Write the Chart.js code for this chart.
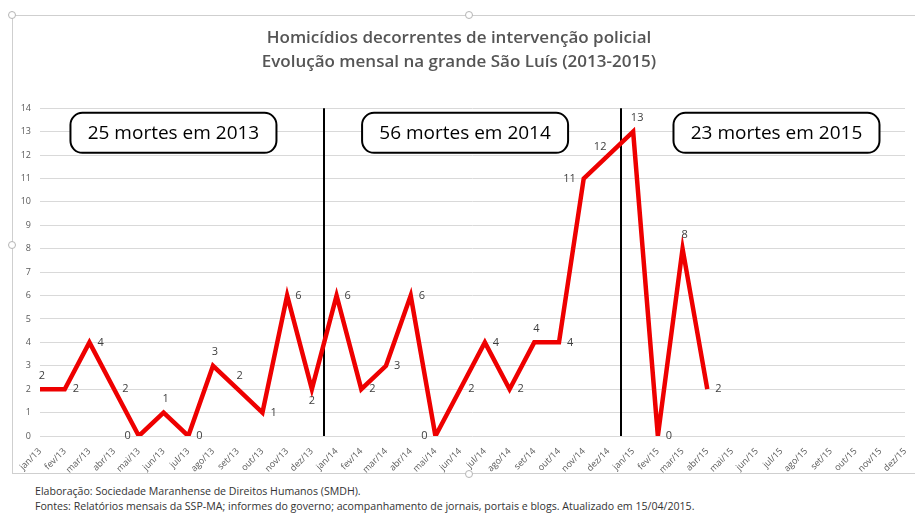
<!DOCTYPE html>
<html>
<head>
<meta charset="utf-8">
<title>Homicídios decorrentes de intervenção policial</title>
<script src="https://cdn.jsdelivr.net/npm/chart.js@4.4.1/dist/chart.umd.min.js"></script>
<style>
    body { margin: 0; background: #fff; width: 915px; height: 515px; overflow: hidden; position: relative; font-family: 'Open Sans', sans-serif; }
    #frame { position: absolute; left: 12px; top: 15px; width: 930px; height: 459px; border: 1px solid #cfcfcf; border-right: none; box-sizing: border-box; }
    .handle { position: absolute; width: 6px; height: 6px; border: 1px solid #b5b5b5; border-radius: 50%; background: #fff; }
    #wrap { position: absolute; left: 13px; top: 16px; width: 902px; height: 457px; }
    .note { position: absolute; left: 35px; font-size: 10.6px; color: #333; white-space: nowrap; }
</style>
</head>
<body>
<div id="frame"></div>
<div class="handle" style="left:8px; top:11px;"></div>
<div class="handle" style="left:465px; top:11px;"></div>
<div class="handle" style="left:8px; top:241px;"></div>
<div class="handle" style="left:465px; top:470px;"></div>
<div id="wrap"><canvas id="chart"></canvas></div>
<div class="note" style="top:484px;">Elaboração: Sociedade Maranhense de Direitos Humanos (SMDH).</div>
<div class="note" style="top:499px;">Fontes: Relatórios mensais da SSP-MA; informes do governo; acompanhamento de jornais, portais e blogs. Atualizado em 15/04/2015.</div>

<script>
// monthly deaths per year
const deaths2013 = [2, 2, 4, 2, 0, 1, 0, 3, 2, 1, 6, 2];
const deaths2014 = [6, 2, 3, 6, 0, 2, 4, 2, 4, 4, 11, 12];
const deaths2015 = [13, 0, 8, 2];

const monthLabels = [
    'jan/13', 'fev/13', 'mar/13', 'abr/13', 'mai/13', 'jun/13', 'jul/13', 'ago/13', 'set/13', 'out/13', 'nov/13', 'dez/13',
    'jan/14', 'fev/14', 'mar/14', 'abr/14', 'mai/14', 'jun/14', 'jul/14', 'ago/14', 'set/14', 'out/14', 'nov/14', 'dez/14',
    'jan/15', 'fev/15', 'mar/15', 'abr/15', 'mai/15', 'jun/15', 'jul/15', 'ago/15', 'set/15', 'out/15', 'nov/15', 'dez/15'
];
const yearNames = ['2013', '2014', '2015'];

// where each value label sits around its point: r = right, l = left, a = above, b = below, al = above-left
const labelPos = ['a', 'r', 'r', 'r', 'l', 'a', 'r', 'a', 'a', 'r', 'r', 'b',
                  'r', 'r', 'r', 'r', 'l', 'r', 'r', 'r', 'a', 'r', 'l', 'al',
                  'a', 'r', 'a', 'r'];

const yearSeries = [deaths2013, deaths2014, deaths2015];
const series = [].concat(deaths2013, deaths2014, deaths2015);
while (series.length < monthLabels.length) series.push(null);

const yearTotals = yearSeries.map(arr => arr.reduce((a, b) => a + b, 0));

const annotations = {
    id: 'annotations',
    beforeDatasetsDraw(chart) {
        const { ctx, chartArea, scales: { x } } = chart;
        ctx.save();
        ctx.strokeStyle = '#000';
        ctx.lineWidth = 2;
        // year separators between dez and jan
        [11.5, 23.5].forEach(v => {
            const px = Math.round(x.getPixelForValue(v));
            ctx.beginPath();
            ctx.moveTo(px, chartArea.top);
            ctx.lineTo(px, chartArea.bottom);
            ctx.stroke();
        });
        ctx.restore();
    },
    afterDatasetsDraw(chart) {
        const { ctx, scales: { x, y } } = chart;
        const meta = chart.getDatasetMeta(0);
        ctx.save();

        // value labels
        ctx.font = '11px "Open Sans"';
        ctx.fillStyle = '#404040';
        meta.data.forEach((pt, i) => {
            const v = series[i];
            if (v === null) return;
            const pos = labelPos[i];
            let tx = pt.x, ty = pt.y;
            if (pos === 'r') { ctx.textAlign = 'left'; ctx.textBaseline = 'middle'; tx += 8; }
            else if (pos === 'l') { ctx.textAlign = 'right'; ctx.textBaseline = 'middle'; tx -= 8; }
            else if (pos === 'a') { ctx.textAlign = 'center'; ctx.textBaseline = 'bottom'; ty -= 8; tx += (i === 24 ? 4 : 2); }
            else if (pos === 'al') { ctx.textAlign = 'right'; ctx.textBaseline = 'bottom'; tx -= 2; ty -= 3; }
            else { ctx.textAlign = 'center'; ctx.textBaseline = 'top'; ty += 6; }
            ctx.fillText(String(v), tx, ty);
        });

        // yearly totals in rounded boxes
        const centers = [5.4, 17.2, 29.8];
        ctx.font = '19px "Open Sans"';
        ctx.textAlign = 'center';
        ctx.textBaseline = 'middle';
        centers.forEach((c, i) => {
            const cx = x.getPixelForValue(c);
            const cy = y.getPixelForValue(12.95);
            const w = 206, h = 40, r = 12;
            ctx.beginPath();
            ctx.roundRect(cx - w / 2, cy - h / 2, w, h, r);
            ctx.fillStyle = '#fff';
            ctx.fill();
            ctx.lineWidth = 2;
            ctx.strokeStyle = '#000';
            ctx.stroke();
            ctx.fillStyle = '#000';
            ctx.fillText(yearTotals[i] + ' mortes em ' + yearNames[i], cx, cy + 1);
        });
        ctx.restore();
    }
};

new Chart(document.getElementById('chart'), {
    type: 'line',
    data: {
        labels: monthLabels,
        datasets: [{
            data: series,
            borderColor: '#ee0000',
            borderWidth: 4.5,
            borderJoinStyle: 'miter',
            pointRadius: 0,
            tension: 0,
            fill: false
        }]
    },
    options: {
        responsive: true,
        maintainAspectRatio: false,
        animation: false,
        layout: { padding: { left: 0, right: 10, top: 0, bottom: 0 } },
        plugins: {
            legend: { display: false },
            tooltip: { enabled: false },
            title: {
                display: true,
                text: ['Homicídios decorrentes de intervenção policial', 'Evolução mensal na grande São Luís (2013-2015)'],
                color: '#555555',
                font: { family: 'Open Sans', size: 17, weight: '600', lineHeight: 1.42 },
                padding: { top: 10, bottom: 34 }
            }
        },
        scales: {
            x: {
                offset: false,
                grid: { display: false },
                border: { display: false },
                ticks: {
                    color: '#595959',
                    font: { family: 'Open Sans', size: 9 },
                    autoSkip: false,
                    maxRotation: 45,
                    minRotation: 45,
                    padding: 2
                },
                afterFit(scale) { scale.height = 37; }
            },
            y: {
                min: 0,
                max: 14,
                grid: { color: '#d9d9d9', drawTicks: false },
                border: { display: false },
                ticks: {
                    stepSize: 1,
                    color: '#595959',
                    font: { family: 'Open Sans', size: 9 },
                    padding: 9
                },
                afterFit(scale) { scale.width = 27; }
            }
        }
    },
    plugins: [annotations]
});
</script>
</body>
</html>
